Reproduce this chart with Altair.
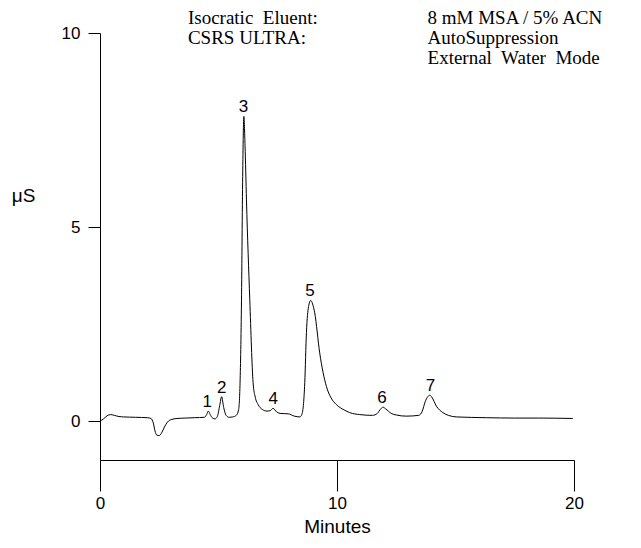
import altair as alt
import pandas as pd

# chromatogram trace (minutes, uS)
minutes = [0.0, 0.15, 0.3, 0.45, 0.6, 0.8, 1.0, 1.5, 2.0, 2.15, 2.25, 2.32, 2.4, 2.5,
           2.6, 2.72, 2.85, 3.0, 3.25, 3.6, 4.0, 4.4, 4.5, 4.57, 4.65, 4.75, 4.85,
           4.95, 5.05, 5.13, 5.22, 5.32, 5.45, 5.6, 5.75, 5.85, 5.91, 5.97, 6.02,
           6.07, 6.12, 6.18, 6.32, 6.46, 6.55, 6.67, 6.85, 7.05, 7.18, 7.3, 7.45,
           7.6, 7.94, 8.2, 8.43, 8.5, 8.58, 8.64, 8.71, 8.8, 8.89, 8.97, 9.06,
           9.27, 9.55, 9.75, 9.97, 10.3, 10.54, 10.96, 11.5, 11.7, 11.85, 11.94,
           12.05, 12.29, 12.5, 12.92, 13.45, 13.6, 13.72, 13.83, 13.91, 14.0,
           14.19, 14.47, 14.7, 15.03, 16.3, 17.5, 18.5, 19.95]
signal = [0.0, 0.06, 0.14, 0.17, 0.15, 0.12, 0.11, 0.1, 0.09, 0.07, -0.05, -0.25,
          -0.36, -0.37, -0.3, -0.15, -0.02, 0.04, 0.07, 0.08, 0.09, 0.1, 0.17,
          0.26, 0.17, 0.08, 0.06, 0.12, 0.4, 0.63, 0.35, 0.15, 0.1, 0.11, 0.15,
          0.3, 1.0, 3.1, 6.3, 7.85, 7.1, 5.7, 3.13, 0.99, 0.62, 0.43, 0.3, 0.26,
          0.27, 0.33, 0.24, 0.2, 0.19, 0.13, 0.11, 0.15, 0.4, 1.0, 2.28, 2.95,
          3.11, 3.02, 2.79, 1.76, 0.9, 0.6, 0.43, 0.29, 0.22, 0.17, 0.15, 0.2,
          0.32, 0.36, 0.32, 0.2, 0.16, 0.13, 0.15, 0.26, 0.5, 0.63, 0.67, 0.62,
          0.39, 0.22, 0.15, 0.11, 0.09, 0.08, 0.08, 0.07]

peak_ids = ["1", "2", "3", "4", "5", "6", "7"]
peak_times = [4.52, 5.14, 6.05, 7.31, 8.86, 11.9, 13.94]
peak_heights = [0.26, 0.63, 7.85, 0.33, 3.11, 0.36, 0.67]

note_keys = ["Isocratic\u00a0 Eluent:", "CSRS ULTRA:"]
note_values = ["8 mM MSA / 5% ACN", "AutoSuppression", "External\u00a0 Water\u00a0 Mode"]

sans = "Liberation Sans, Arial, sans-serif"
serif = "Liberation Serif, Times New Roman, serif"

trace = pd.DataFrame({"minutes": minutes, "signal": signal})
peaks = pd.DataFrame({"minutes": peak_times, "signal": peak_heights, "label": peak_ids})

# annotation block sits above the top of the y range (data coords)
note_top = 10.24
note_step = 0.52
keys = pd.DataFrame({"minutes": [3.71] * len(note_keys),
                     "signal": [note_top - note_step * i for i in range(len(note_keys))],
                     "label": note_keys})
values = pd.DataFrame({"minutes": [13.82] * len(note_values),
                       "signal": [note_top - note_step * i for i in range(len(note_values))],
                       "label": note_values})

x_axis = alt.Axis(values=[0, 10, 20], grid=False, domainColor="black", tickColor="black",
                  tickSize=31, labelPadding=4, labelFlush=False, labelFont=sans,
                  labelFontSize=17, labelColor="black", title="Minutes", titleFont=sans,
                  titleFontSize=19, titleFontWeight="normal", titleColor="black",
                  titleY=72, titleBaseline="alphabetic")
y_axis = alt.Axis(values=[0, 5, 10], grid=False, domainColor="black", tickColor="black",
                  tickSize=12, labelPadding=8, labelFont=sans, labelFontSize=17,
                  labelColor="black", title="μS", titleAngle=0, titleFont=sans,
                  titleFontSize=19, titleFontWeight="normal", titleColor="black",
                  titleX=-77, titleY=162, titleAlign="center", titleBaseline="middle")

line = alt.Chart(trace).mark_line(color="black", strokeWidth=1, interpolate="monotone").encode(
    x=alt.X("minutes:Q", scale=alt.Scale(domain=[0, 20], nice=False, zero=False), axis=x_axis),
    y=alt.Y("signal:Q", scale=alt.Scale(domain=[-1, 10], nice=False, zero=False), axis=y_axis),
)

peak_text = alt.Chart(peaks).mark_text(
    font=sans, fontSize=17, color="black", baseline="alphabetic", dy=-4
).encode(x="minutes:Q", y="signal:Q", text="label:N")

key_text = alt.Chart(keys).mark_text(
    font=serif, fontSize=19, color="black", align="left", baseline="alphabetic"
).encode(x="minutes:Q", y="signal:Q", text="label:N")

value_text = alt.Chart(values).mark_text(
    font=serif, fontSize=19, color="black", align="left", baseline="alphabetic"
).encode(x="minutes:Q", y="signal:Q", text="label:N")

chart = alt.layer(line, peak_text, key_text, value_text).properties(
    width=474,
    height=427,
    autosize=alt.AutoSizeParams(type="none"),
    padding={"left": 92, "top": 25, "right": 59, "bottom": 76},
).configure_view(stroke=None)

chart.save("out.html", embed_options={"renderer": "svg", "actions": False})
